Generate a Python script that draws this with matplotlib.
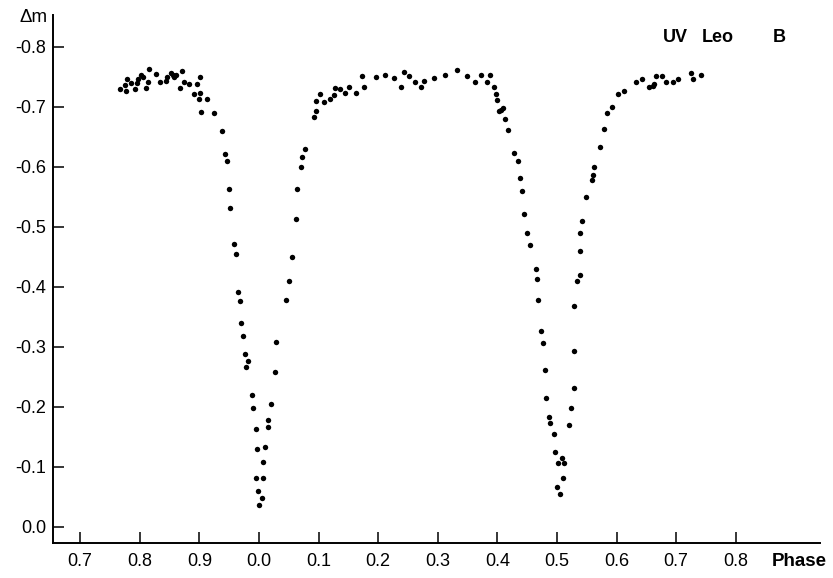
"""Light curve of UV Leo in B, redrawn from the published figure."""

import matplotlib

matplotlib.use("Agg")
import matplotlib.pyplot as plt

OUTPUT = "out.png"

# phase runs on past 1.0, so 0.7..0.9 of the previous cycle sit at -0.3..-0.1
PHASE = [
    -0.2332, -0.2248, -0.2220, -0.2232, -0.2148, -0.2081, -0.2052, -0.2035, -0.1985, -0.1951,
    -0.1896, -0.1862, -0.1841, -0.1723, -0.1656, -0.1565, -0.1549, -0.1477, -0.1448, -0.1426,
    -0.1393, -0.1326, -0.1297, -0.1253, -0.1169, -0.1086, -0.1045, -0.0990, -0.0995, -0.1012,
    -0.0968, -0.0872, -0.0760, -0.0621, -0.0570, -0.0532, -0.0508, -0.0487, -0.0419, -0.0386,
    -0.0347, -0.0314, -0.0297, -0.0273, -0.0235, -0.0190, -0.0213, -0.0117, -0.0096, -0.0055,
    -0.0029, -0.0045, -0.0017, 0.0005, 0.0050, 0.0072, 0.0067, 0.0101, 0.0151, 0.0151,
    0.0201, 0.0263, 0.0290, 0.0458, 0.0498, 0.0554, 0.0616, 0.0643, 0.0710, 0.0727,
    0.0777, 0.0923, 0.0951, 0.0961, 0.1029, 0.1096, 0.1191, 0.1263, 0.1280, 0.1364,
    0.1443, 0.1515, 0.1628, 0.1723, 0.1767, 0.1963, 0.2114, 0.2265, 0.2378, 0.2438,
    0.2522, 0.2622, 0.2723, 0.2773, 0.2936, 0.3121, 0.3317, 0.3490, 0.3624, 0.3725,
    0.3820, 0.3876, 0.3943, 0.3971, 0.3993, 0.4022, 0.4055, 0.4094, 0.4133, 0.4178,
    0.4279, 0.4341, 0.4379, 0.4418, 0.4446, 0.4502, 0.4547, 0.4648, 0.4664, 0.4676,
    0.4732, 0.4765, 0.4804, 0.4820, 0.4861, 0.4883, 0.4950, 0.4966, 0.5012, 0.5079,
    0.5122, 0.5101, 0.5000, 0.5055, 0.5196, 0.5235, 0.5290, 0.5285, 0.5290, 0.5331,
    0.5386, 0.5381, 0.5381, 0.5424, 0.5487, 0.5582, 0.5599, 0.5626, 0.5721, 0.5789,
    0.5834, 0.5928, 0.6029, 0.6129, 0.6326, 0.6426, 0.6539, 0.6616, 0.6633, 0.6661,
    0.6757, 0.6829, 0.6941, 0.7035, 0.7243, 0.7287, 0.7411,
]

DELTA_M = [
    -0.7295, -0.7367, -0.7462, -0.7272, -0.7395, -0.7295, -0.7395, -0.7462, -0.7533, -0.7505,
    -0.7312, -0.7412, -0.7633, -0.7550, -0.7422, -0.7438, -0.7495, -0.7562, -0.7533, -0.7495,
    -0.7533, -0.7317, -0.7595, -0.7422, -0.7378, -0.7217, -0.7378, -0.7505, -0.7238, -0.7128,
    -0.6912, -0.7138, -0.6905, -0.6600, -0.6212, -0.6105, -0.5622, -0.5312, -0.4712, -0.4550,
    -0.3905, -0.3767, -0.3400, -0.3172, -0.2878, -0.2755, -0.2662, -0.2195, -0.1988, -0.1628,
    -0.1295, -0.0812, -0.0588, -0.0367, -0.0472, -0.0812, -0.1078, -0.1322, -0.1772, -0.1667,
    -0.2050, -0.2572, -0.3078, -0.3783, -0.4105, -0.4505, -0.5128, -0.5622, -0.6005, -0.6162,
    -0.6305, -0.6833, -0.6933, -0.7100, -0.7217, -0.7088, -0.7133, -0.7200, -0.7312, -0.7300,
    -0.7222, -0.7328, -0.7228, -0.7522, -0.7328, -0.7505, -0.7533, -0.7488, -0.7338, -0.7578,
    -0.7517, -0.7422, -0.7328, -0.7433, -0.7483, -0.7533, -0.7617, -0.7522, -0.7422, -0.7533,
    -0.7412, -0.7528, -0.7338, -0.7217, -0.7117, -0.6922, -0.6950, -0.6978, -0.6795, -0.6617,
    -0.6238, -0.6105, -0.5812, -0.5600, -0.5212, -0.4905, -0.4700, -0.4300, -0.4122, -0.3783,
    -0.3267, -0.3062, -0.2605, -0.2150, -0.1833, -0.1722, -0.1550, -0.1245, -0.1062, -0.1145,
    -0.1062, -0.0812, -0.0662, -0.0538, -0.1700, -0.1972, -0.2317, -0.2938, -0.3678, -0.4100,
    -0.4200, -0.4600, -0.4905, -0.5095, -0.5505, -0.5772, -0.5862, -0.6000, -0.6322, -0.6628,
    -0.6905, -0.6995, -0.7208, -0.7267, -0.7417, -0.7470, -0.7325, -0.7355, -0.7378, -0.7517,
    -0.7517, -0.7422, -0.7412, -0.7462, -0.7562, -0.7462, -0.7528,
]

X_TICKS = [-0.3, -0.2, -0.1, 0.0, 0.1, 0.2, 0.3, 0.4, 0.5, 0.6, 0.7, 0.8]
X_LABELS = ["0.7", "0.8", "0.9", "0.0", "0.1", "0.2", "0.3", "0.4", "0.5", "0.6", "0.7", "0.8"]
Y_TICKS = [-0.8, -0.7, -0.6, -0.5, -0.4, -0.3, -0.2, -0.1, 0.0]
Y_LABELS = ["-0.8", "-0.7", "-0.6", "-0.5", "-0.4", "-0.3", "-0.2", "-0.1", "0.0"]

FONT = ["Liberation Sans", "DejaVu Sans"]


def main() -> None:
    plt.rcParams["font.family"] = FONT

    fig = plt.figure(figsize=(8.33, 5.78), dpi=100)
    ax = fig.add_axes([0.0636, 0.0606, 0.9208, 0.9134])

    ax.plot(PHASE, DELTA_M, "o", ms=3.9, color="black", mec="black", mew=0)

    ax.set_xlim(-0.3456, 0.9413)
    ax.set_ylim(0.027, -0.853)

    for side in ("top", "right"):
        ax.spines[side].set_visible(False)
    for side in ("left", "bottom"):
        ax.spines[side].set_linewidth(1.4)

    ax.set_xticks(X_TICKS)
    ax.set_xticklabels(X_LABELS)
    ax.set_yticks(Y_TICKS)
    ax.set_yticklabels(Y_LABELS)
    ax.tick_params(axis="both", direction="in", length=8, width=1.1, labelsize=13, color="black")
    ax.tick_params(axis="x", pad=7)
    ax.tick_params(axis="y", pad=5)

    fig.text(48 / 833, 1 - 18 / 578, "\u0394m", ha="right", va="center", fontsize=13.5)
    fig.text(799 / 833, 1 - 553 / 578, "Phase", ha="center", va="top", fontsize=13.5,
             fontweight="bold")
    fig.text(663 / 833, 1 - 38 / 578, "UV", ha="left", va="center", fontsize=13, fontweight="bold")
    fig.text(702 / 833, 1 - 38 / 578, "Leo", ha="left", va="center", fontsize=13, fontweight="bold")
    fig.text(773 / 833, 1 - 38 / 578, "B", ha="left", va="center", fontsize=13, fontweight="bold")

    fig.savefig(OUTPUT, dpi=100, facecolor="white")
    plt.close(fig)


if __name__ == "__main__":
    main()
